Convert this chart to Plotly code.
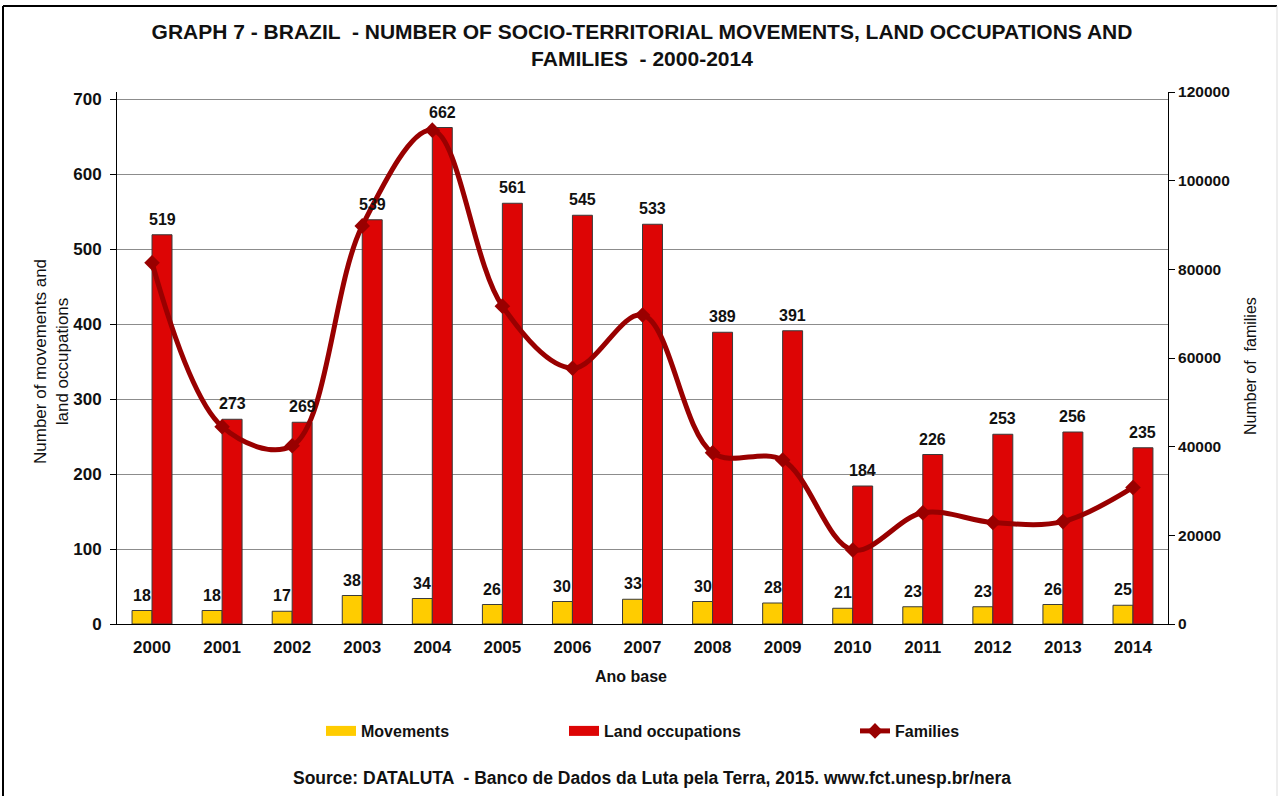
import plotly.graph_objects as go

# Data: socio-territorial movements, land occupations and families, Brazil
years = ["2000", "2001", "2002", "2003", "2004", "2005", "2006", "2007",
         "2008", "2009", "2010", "2011", "2012", "2013", "2014"]
movements = [18, 18, 17, 38, 34, 26, 30, 33, 30, 28, 21, 23, 23, 26, 25]
land_occupations = [519, 273, 269, 539, 662, 561, 545, 533, 389, 391,
                     184, 226, 253, 256, 235]
families = [81500, 44500, 40200, 89800, 111400, 71700, 57700, 69700,
            38600, 37000, 16700, 25100, 22900, 23100, 30800]

left_ticks = [0, 100, 200, 300, 400, 500, 600, 700]
right_ticks = [0, 20000, 40000, 60000, 80000, 100000, 120000]

FONT = "Liberation Sans, Arial, sans-serif"
YELLOW = "#FFCC00"
RED = "#DD0505"
DARK_RED = "#990000"
OUTLINE = "#3a3a3a"
INK = "#111111"

# Pixel layout of the page
W, H = 1280, 796
ML, MR, MT, MB = 117, 112, 92, 172
PW = W - ML - MR
PH = H - MT - MB
LEFT_TOP = 99  # pixel row of the 700 gridline
left_max = 700 * PH / (H - MB - LEFT_TOP)


def px_x(p):
    return (p - ML) / PW


def px_y(p):
    return (H - MB - p) / PH


def bold(size):
    return dict(family=FONT, size=size, color=INK, weight="bold")


fig = go.Figure()

fig.add_trace(go.Bar(
    x=years, y=movements, name="Movements", showlegend=False,
    marker=dict(color=YELLOW, line=dict(color=OUTLINE, width=1)),
    yaxis="y",
))
fig.add_trace(go.Bar(
    x=years, y=land_occupations, name="Land occupations", showlegend=False,
    marker=dict(color=RED, line=dict(color=OUTLINE, width=1)),
    yaxis="y",
))
fig.add_trace(go.Scatter(
    x=years, y=families, name="Families", mode="lines+markers",
    line=dict(color=DARK_RED, width=5, shape="spline", smoothing=1.0),
    marker=dict(symbol="diamond", size=12, color=DARK_RED),
    yaxis="y2", legend="legend3",
))

# Wide rectangular legend keys for the two bar series
fig.add_trace(go.Scatter(
    x=[None], y=[None], name="Movements", mode="lines",
    line=dict(color=YELLOW, width=10), legend="legend", hoverinfo="skip",
))
fig.add_trace(go.Scatter(
    x=[None], y=[None], name="Land occupations", mode="lines",
    line=dict(color=RED, width=10), legend="legend2", hoverinfo="skip",
))

# Value labels above the bars (x given as category index)
annotations = []
for i, (m, lo) in enumerate(zip(movements, land_occupations)):
    annotations.append(dict(x=i, y=m, xref="x", yref="y", text=str(m),
                            showarrow=False, xshift=-10, yshift=5,
                            yanchor="bottom", font=bold(16)))
    annotations.append(dict(x=i, y=lo, xref="x", yref="y", text=str(lo),
                            showarrow=False, xshift=10, yshift=5,
                            yanchor="bottom", font=bold(16)))

# Axis titles and source line
annotations.append(dict(x=px_x(631), y=px_y(676), xref="paper", yref="paper",
                        xanchor="center", yanchor="middle",
                        text="Ano base", showarrow=False, font=bold(16)))
annotations.append(dict(x=px_x(51), y=px_y(362), xref="paper", yref="paper",
                        xanchor="center", yanchor="middle",
                        text="Number of movements and<br>land occupations",
                        showarrow=False, textangle=-90,
                        font=dict(family=FONT, size=17, color=INK)))
annotations.append(dict(x=px_x(1250), y=px_y(366), xref="paper", yref="paper",
                        xanchor="center", yanchor="middle",
                        text="Number of  families", showarrow=False,
                        textangle=-90,
                        font=dict(family=FONT, size=16, color=INK)))
annotations.append(dict(x=px_x(652), y=px_y(778), xref="paper", yref="paper",
                        xanchor="center", yanchor="middle",
                        text="Source: DATALUTA  - Banco de Dados da Luta pela Terra, 2015. www.fct.unesp.br/nera",
                        showarrow=False, font=bold(17.5)))

# Chart frame
shapes = [
    dict(type="line", xref="paper", yref="paper", x0=px_x(3), x1=px_x(3),
         y0=px_y(6), y1=px_y(H + 10), line=dict(color="#000000", width=2)),
    dict(type="line", xref="paper", yref="paper", x0=px_x(3), x1=px_x(1277),
         y0=px_y(6), y1=px_y(6), line=dict(color="#000000", width=2)),
    dict(type="line", xref="paper", yref="paper", x0=px_x(1277), x1=px_x(1277),
         y0=px_y(6), y1=px_y(H + 10), line=dict(color="#dddddd", width=1)),
]

legend_common = dict(orientation="h", yanchor="middle", xanchor="left",
                     y=px_y(731), bgcolor="rgba(0,0,0,0)",
                     font=bold(16), itemwidth=30)

fig.update_layout(
    width=W, height=H,
    margin=dict(l=ML, r=MR, t=MT, b=MB),
    paper_bgcolor="white", plot_bgcolor="rgba(0,0,0,0)",
    barmode="group", bargap=0.43, bargroupgap=0,
    title=dict(text="GRAPH 7 - BRAZIL  - NUMBER OF SOCIO-TERRITORIAL MOVEMENTS, LAND OCCUPATIONS AND<br>FAMILIES  - 2000-2014",
               x=642 / W, xanchor="center", y=1 - 39 / H, yanchor="middle",
               font=bold(21)),
    xaxis=dict(type="category", range=[-0.5, len(years) - 0.5],
               showgrid=False,
               ticks="outside", ticklen=8, tickcolor="rgba(0,0,0,0)",
               showline=True, linecolor="#000000", linewidth=1,
               tickfont=bold(17)),
    yaxis=dict(range=[0, left_max],
               tickvals=left_ticks, showgrid=True, gridcolor="#8c8c8c",
               gridwidth=1, showline=True, linecolor="#000000", linewidth=1,
               ticks="outside", ticklen=6, tickcolor="#000000",
               ticklabelstandoff=5,
               tickfont=bold(17), zeroline=False),
    yaxis2=dict(overlaying="y", range=[0, 120000], side="right",
                tickvals=right_ticks, ticktext=[str(v) for v in right_ticks],
                showgrid=False, showline=True,
                linecolor="#000000", linewidth=1, ticks="outside", ticklen=6,
                tickcolor="#000000", tickfont=bold(15.5), zeroline=False),
    legend=dict(x=px_x(321), **legend_common),
    legend2=dict(x=px_x(564), **legend_common),
    legend3=dict(x=px_x(855), **legend_common),
    annotations=annotations,
    shapes=shapes,
    font=dict(family=FONT),
)

fig.write_html("out.html")
